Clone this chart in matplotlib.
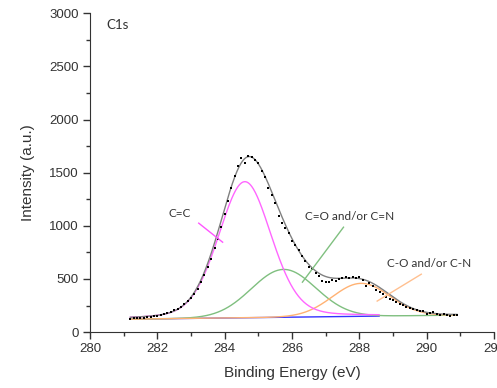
import numpy as np
import matplotlib
matplotlib.use('Agg')
import matplotlib.pyplot as plt

# 측정 데이터 (0.1 eV 간격)
energy = [round(281.2 + 0.1 * i, 1) for i in range(98)]
counts = [128, 130, 132, 133, 136, 138, 146, 150, 156, 160,
          168, 178, 190, 205, 222, 240, 262, 290, 320, 355,
          410, 470, 540, 610, 690, 790, 880, 990, 1110, 1230,
          1360, 1470, 1560, 1640, 1590, 1655, 1650, 1620, 1590, 1520,
          1455, 1360, 1290, 1210, 1095, 1030, 975, 930, 860, 820,
          775, 720, 670, 615, 590, 555, 530, 480, 470, 475,
          490, 485, 500, 505, 520, 510, 520, 505, 520, 490,
          435, 460, 430, 400, 380, 355, 335, 315, 300, 285,
          268, 255, 240, 228, 215, 205, 200, 195, 175, 180,
          185, 172, 165, 170, 165, 150, 162, 158]

# 피크 피팅 결과 (중심, 높이, 반치폭, 로렌츠 비율)
peak_names = ['C=C', 'C=O and/or C=N', 'C-O and/or C-N']
peak_center = [284.6, 285.75, 288.05]
peak_height = [1280, 450, 310]
peak_fwhm = [1.85, 2.25, 2.0]
peak_eta = [0.2, 0.0, 0.0]
peak_end = [288.6, 290.9, 290.9]
peak_colors = ['#ff66ff', '#7fbf7f', '#ffb273']
base_start, base_end = 122, 160

x = np.linspace(281.2, 290.9, 500)
base = base_start + (base_end - base_start) * (x - 281.2) / (290.9 - 281.2)


def pvoigt(x, c, a, w, eta):
    g = np.exp(-4 * np.log(2) * ((x - c) / w) ** 2)
    l = 1 / (1 + 4 * ((x - c) / w) ** 2)
    return a * (eta * l + (1 - eta) * g)


fig = plt.figure(figsize=(4.97, 3.88), dpi=100)
ax = fig.add_axes([0.181, 0.144, 0.813, 0.822])

comps = [pvoigt(x, c, a, w, e) for c, a, w, e in zip(peak_center, peak_height, peak_fwhm, peak_eta)]
total = base + sum(comps)

m = x <= 288.6
ax.plot(x[m], base[m], color='#3333ff', lw=1)
for i in [1, 2, 0]:
    mm = x <= peak_end[i]
    ax.plot(x[mm], (base + comps[i])[mm], color=peak_colors[i], lw=1)
ax.plot(x, total, color='#808080', lw=1)
ax.plot(energy, counts, 's', color='black', ms=2.0, mew=0)

# 라벨과 지시선
txt = dict(fontsize=8.5, family='Lato', color='#333333', ha='center', va='center')
ax.text(282.67, 1119, peak_names[0], **txt)
ax.plot([283.23, 283.94], [1025, 846], color='#ff55ff', lw=1)
ax.text(287.7, 1091, peak_names[1], **txt)
ax.plot([287.53, 286.31], [987, 470], color='#80c080', lw=1)
ax.text(290.07, 649, peak_names[2], **txt)
ax.plot([289.84, 288.53], [545, 292], color='#ffc090', lw=1)
ax.text(280.5, 2890, 'C1s', fontsize=9.5, family='Lato', color='#333333', ha='left', va='center')

ax.set_xlim(280, 292)
ax.set_ylim(0, 3000)
ax.set_xticks(range(280, 293, 2))
ax.set_xticks(range(281, 292, 2), minor=True)
ax.set_yticks(range(0, 3001, 500))
ax.set_yticks(range(250, 3000, 500), minor=True)
for s in ['top', 'right']:
    ax.spines[s].set_visible(False)
for s in ['left', 'bottom']:
    ax.spines[s].set_color('#333333')
ax.tick_params(which='major', direction='out', length=5, width=1, color='#333333',
               labelsize=9.5, labelcolor='#333333', pad=3)
ax.tick_params(which='minor', direction='out', length=3, width=1, color='#333333')
for lab in ax.get_xticklabels() + ax.get_yticklabels():
    lab.set_family('Liberation Sans')
ax.set_xlabel('Binding Energy (eV)', fontsize=11, family='Liberation Sans', color='#333333', labelpad=8)
ax.set_ylabel('Intensity (a.u.)', fontsize=11, family='Liberation Sans', color='#333333', labelpad=10.5)

fig.savefig('out.png', dpi=100)
